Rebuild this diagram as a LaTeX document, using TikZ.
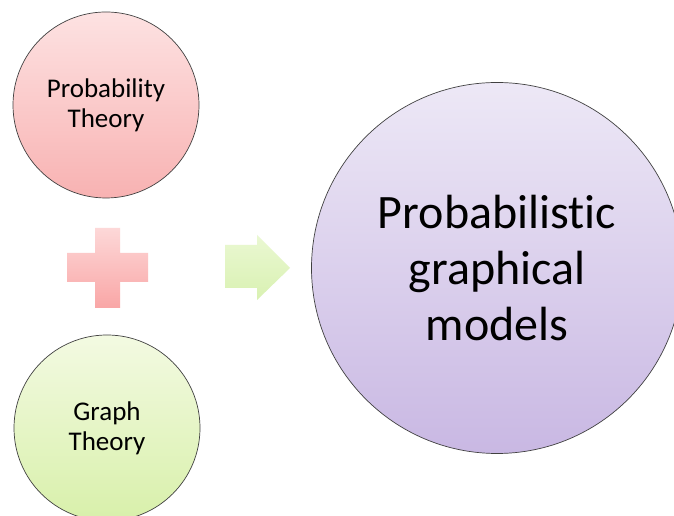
\documentclass[tikz,border=0pt]{standalone}
\usepackage{fontspec}
\setmainfont[Ligatures={NoCommon}]{Carlito}
\begin{document}
\begin{tikzpicture}[x=1pt,y=1pt,
  bubble/.style={circle,draw=black!75,line width=0.7pt,align=center,inner sep=0pt,text=black},
  smalltext/.style={font=\fontsize{27}{30}\selectfont},
  bigtext/.style={font=\fontsize{48}{56}\selectfont}]
\useasboundingbox (0,0) rectangle (674,516);
\clip (0,0) rectangle (674,516);
\fill[white] (0,0) rectangle (674,516);
% circles
\definecolor{probtop}{HTML}{FDE2E2}
\definecolor{probbot}{HTML}{F8B2B2}
\node[bubble,smalltext,minimum size=186pt,top color=probtop,bottom color=probbot]
  (prob) at (106,411) {Probability\\Theory};
\definecolor{graphtop}{HTML}{F3FAE2}
\definecolor{graphbot}{HTML}{D8F0AA}
\node[bubble,smalltext,minimum size=186pt,top color=graphtop,bottom color=graphbot]
  (graph) at (107,88) {Graph\\Theory};
\definecolor{pgmtop}{HTML}{EDE8F6}
\definecolor{pgmbot}{HTML}{C9B8E3}
\node[bubble,bigtext,minimum size=371pt,top color=pgmtop,bottom color=pgmbot]
  (pgm) at (497,248) {Probabilistic\\graphical\\models};
% plus sign
\definecolor{plustop}{HTML}{FDD8D8}
\definecolor{plusbot}{HTML}{F9A6A6}
\shade[top color=plustop,bottom color=plusbot]
  (95,288) -- (120,288) -- (120,263) -- (148,263) -- (148,234) -- (120,234)
  -- (120,208) -- (95,208) -- (95,234) -- (67,234) -- (67,263) -- (95,263) -- cycle;
% arrow
\definecolor{arrtop}{HTML}{EAF8D2}
\definecolor{arrbot}{HTML}{D9F1B2}
\shade[top color=arrtop,bottom color=arrbot]
  (225,271) -- (257,271) -- (257,281) -- (290,248) -- (257,216) -- (257,228)
  -- (225,228) -- cycle;
\end{tikzpicture}
\end{document}
